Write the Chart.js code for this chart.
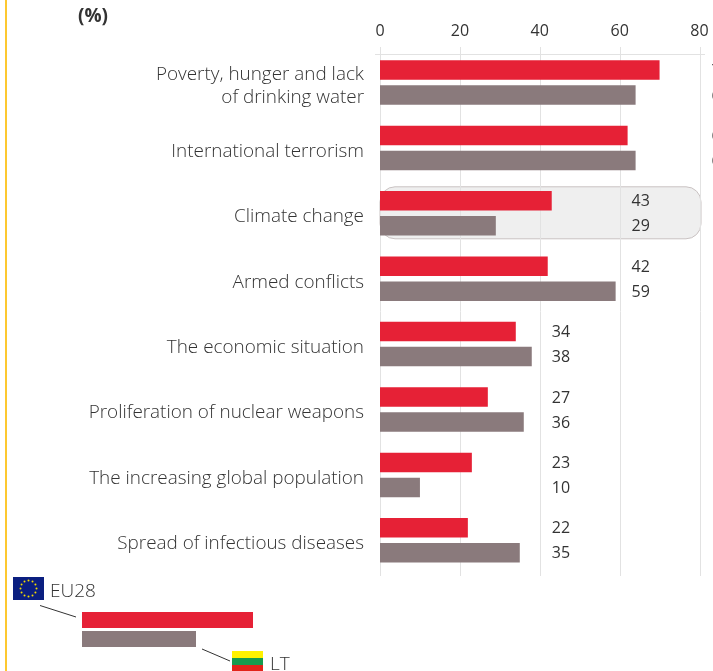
<!DOCTYPE html>
<html><head><meta charset="utf-8">
<style>html,body{margin:0;padding:0;background:#fff;overflow:hidden}
#wrap{position:relative;width:713px;height:671px}
#bar{position:absolute;left:5px;top:0;width:2px;height:671px;background:#fdc830}
canvas{position:absolute;left:0;top:0}</style>
<script src="https://cdn.jsdelivr.net/npm/chart.js@4"></script>
</head><body><div id="wrap"><canvas id="c" width="713" height="671"></canvas><div id="bar"></div></div>
<script>
const categories = [["Poverty, hunger and lack","of drinking water"],"International terrorism","Climate change","Armed conflicts","The economic situation","Proliferation of nuclear weapons","The increasing global population","Spread of infectious diseases"];
const eu28 = [70,62,43,42,34,27,23,22];
const lt = [64,64,29,59,38,36,10,35];
const xTicks = [0,20,40,60,80];
const highlighted = "Climate change";
const unitLabel = "(%)";
const euName = "EU28", ltName = "LT";
const RED = "#e62136", GREY = "#8a7a7c", INK = "#333333";
const FONT = '"Open Sans"';

const decor = {
  id:"decor",
  beforeDatasetsDraw(ch){
    const c=ch.ctx, x=ch.scales.x, y=ch.scales.y;
    const i=categories.indexOf(highlighted), cy=y.getPixelForValue(i);
    c.save();
    c.beginPath();
    c.roundRect(x.getPixelForValue(0),cy-26.5,321,52,15);
    c.fillStyle="rgba(225,225,225,.55)"; c.fill();
    c.strokeStyle="#c9c2c2"; c.lineWidth=1; c.stroke();
    c.strokeStyle="#e2e2e2";
    c.beginPath(); c.moveTo(375,54.5); c.lineTo(705,54.5); c.stroke();
    xTicks.forEach(t=>{const p=Math.round(x.getPixelForValue(t))+.5;
      c.beginPath(); c.moveTo(p,47); c.lineTo(p,576); c.stroke();});
    c.restore();
  },
  afterDraw(ch){
    const c=ch.ctx, x=ch.scales.x, y=ch.scales.y;
    c.save();
    c.font='400 16px '+FONT; c.fillStyle=INK; c.textAlign="left"; c.textBaseline="middle";
    categories.forEach((_,i)=>{
      const col=Math.ceil(Math.max(eu28[i],lt[i])/20)*20+3;
      [[eu28,0],[lt,1]].forEach(([arr,d])=>{
        const el=ch.getDatasetMeta(d).data[i];
        c.fillText(String(arr[i]),x.getPixelForValue(col),el.y+1);
      });
    });
    c.font='700 19px '+FONT; c.fillStyle="#333"; c.fillText(unitLabel,78,17);
    c.fillStyle="#0b1f80"; c.fillRect(13,577,31,23);
    c.fillStyle="#f4dc00";
    for(let k=0;k<12;k++){const a=k*Math.PI/6;c.beginPath();c.arc(28.5+8*Math.cos(a),588.5+8*Math.sin(a),1,0,7);c.fill();}
    c.font='300 19px '+FONT; c.fillStyle=INK;
    c.fillText(euName,50,591.5);
    c.fillText(ltName,270,664.5);
    c.strokeStyle="#333"; c.lineWidth=1;
    c.beginPath(); c.moveTo(40,605.5); c.lineTo(76,617); c.stroke();
    c.beginPath(); c.moveTo(202,649); c.lineTo(230,661); c.stroke();
    c.fillStyle=RED; c.fillRect(82,612,171,16);
    c.fillStyle=GREY; c.fillRect(82,631,114,16);
    c.fillStyle="#fff200"; c.fillRect(232,651,31,7);
    c.fillStyle="#169b4e"; c.fillRect(232,658,31,7);
    c.fillStyle="#e2231a"; c.fillRect(232,665,31,6);
    c.restore();
  }
};

new Chart(document.getElementById("c"),{
  type:"bar",
  data:{labels:categories,datasets:[
    {label:euName,data:eu28,backgroundColor:RED,categoryPercentage:.765,barPercentage:.78},
    {label:ltName,data:lt,backgroundColor:GREY,categoryPercentage:.765,barPercentage:.78}
  ]},
  options:{
    indexAxis:"y",responsive:false,animation:false,devicePixelRatio:1,
    layout:{padding:{left:0,right:13.5,top:0,bottom:98}},
    plugins:{legend:{display:false},tooltip:{enabled:false}},
    scales:{
      x:{position:"top",min:0,max:80,
        afterBuildTicks(s){s.ticks=xTicks.map(v=>({value:v}));},
        afterFit(s){s.height=49.8;},
        grid:{display:false},border:{display:false},
        ticks:{font:{family:FONT,size:16},color:INK,padding:1,maxRotation:0}},
      y:{afterFit(s){s.width=380;},
        grid:{display:false},border:{display:false},
        ticks:{font:{family:FONT,size:18.9,weight:"300",lineHeight:1.22},color:INK,padding:8,autoSkip:false,labelOffset:3.5}}
    }
  },
  plugins:[decor]
});
</script></body></html>
